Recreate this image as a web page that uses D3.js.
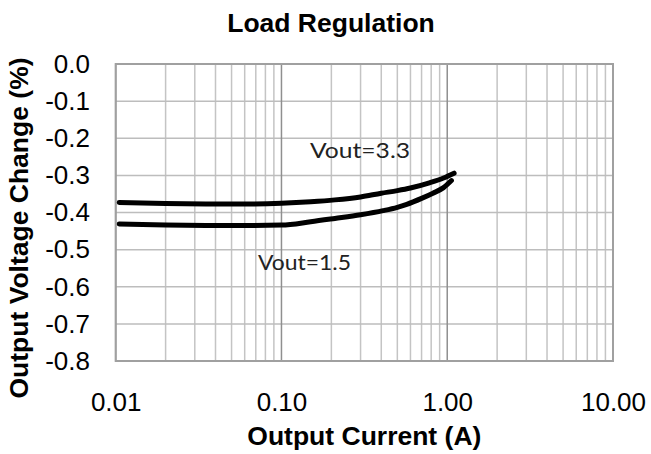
<!DOCTYPE html>
<html>
<head>
<meta charset="utf-8">
<script src="https://cdn.jsdelivr.net/npm/d3@7"></script>
<style>
  html, body { margin: 0; padding: 0; background: #fff; }
  svg { display: block; }
</style>
</head>
<body>
<svg id="chart" width="651" height="454"></svg>
<script>
// ---- data ----
const xTickValues = [0.01, 0.1, 1, 10];
const xTickLabels = ["0.01", "0.10", "1.00", "10.00"];
const yTickValues = [0, -0.1, -0.2, -0.3, -0.4, -0.5, -0.6, -0.7, -0.8];
const yTickLabels = ["0.0", "-0.1", "-0.2", "-0.3", "-0.4", "-0.5", "-0.6", "-0.7", "-0.8"];

const vout33Current = [0.0105, 0.02, 0.035, 0.06, 0.1, 0.15, 0.21, 0.3, 0.4, 0.5, 0.6, 0.78, 0.95, 1.1];
const vout33Change  = [-0.373, -0.376, -0.377, -0.377, -0.375, -0.371, -0.366, -0.358, -0.348, -0.341, -0.334, -0.320, -0.307, -0.294];

const vout15Current = [0.0105, 0.02, 0.035, 0.06, 0.1, 0.15, 0.21, 0.3, 0.41, 0.5, 0.57, 0.7, 0.82, 0.95, 1.06];
const vout15Change  = [-0.431, -0.434, -0.435, -0.435, -0.434, -0.425, -0.416, -0.406, -0.395, -0.386, -0.378, -0.362, -0.348, -0.333, -0.314];

const seriesLabels = ["Vout=3.3", "Vout=1.5"];

(function () {
// ---- layout ----
const svg = d3.select("#chart");
const pLeft = 115.7, pRight = 613, pTop = 64, pBottom = 361;

const x = d3.scaleLog().domain([0.01, 10]).range([pLeft, pRight]);
const y = d3.scaleLinear().domain([-0.8, 0]).range([pBottom, pTop]);

// minor vertical grid
const minor = [];
[0.01, 0.1, 1].forEach(dec => { for (let k = 2; k <= 9; k++) minor.push(dec * k); });

const grid = svg.append("g");
grid.selectAll("line.minor").data(minor).join("line").attr("class", "minor")
  .attr("x1", d => x(d)).attr("x2", d => x(d))
  .attr("y1", pTop).attr("y2", pBottom)
  .attr("stroke", "#c4c4c4").attr("stroke-width", 1.5);

grid.selectAll("line.h").data(yTickValues).join("line").attr("class", "h")
  .attr("x1", pLeft).attr("x2", pRight)
  .attr("y1", d => y(d)).attr("y2", d => y(d))
  .attr("stroke", "#bdbdbd").attr("stroke-width", 1.5);

grid.selectAll("line.major").data(xTickValues).join("line").attr("class", "major")
  .attr("x1", d => x(d)).attr("x2", d => x(d))
  .attr("y1", pTop).attr("y2", pBottom)
  .attr("stroke", "#8f8f8f").attr("stroke-width", 1.5);

// border
svg.append("rect")
  .attr("x", pLeft).attr("y", pTop)
  .attr("width", pRight - pLeft).attr("height", pBottom - pTop)
  .attr("fill", "none").attr("stroke", "#a0a0a0").attr("stroke-width", 2);

// axes
const xAxis = d3.axisBottom(x).tickValues(xTickValues)
  .tickFormat((d, i) => xTickLabels[i]).tickSize(0).tickPadding(32);
const gx = svg.append("g").attr("transform", `translate(0,${pBottom})`).call(xAxis);
gx.select(".domain").remove();
gx.selectAll("text").attr("font-family", "Liberation Sans, Arial, sans-serif")
  .attr("font-size", 26).attr("fill", "#000");

const yAxis = d3.axisLeft(y).tickValues(yTickValues)
  .tickFormat((d, i) => yTickLabels[i]).tickSize(0).tickPadding(pLeft - 90);
const gy = svg.append("g").attr("transform", `translate(${pLeft},0)`).call(yAxis);
gy.select(".domain").remove();
gy.selectAll("text").attr("font-family", "Liberation Sans, Arial, sans-serif")
  .attr("font-size", 26).attr("fill", "#000");

// lines
const line = d3.line().x(d => x(d[0])).y(d => y(d[1])).curve(d3.curveMonotoneX);
const s33 = vout33Current.map((c, i) => [c, vout33Change[i]]);
const s15 = vout15Current.map((c, i) => [c, vout15Change[i]]);
[s33, s15].forEach(s => {
  svg.append("path").datum(s).attr("d", line)
    .attr("fill", "none").attr("stroke", "#000")
    .attr("stroke-width", 5).attr("stroke-linecap", "round").attr("stroke-linejoin", "round");
});

// series labels
svg.append("text").attr("x", 310).attr("y", 158)
  .attr("font-family", "Lato, Open Sans, sans-serif").attr("font-size", 21)
  .attr("textLength", 100).attr("lengthAdjust", "spacingAndGlyphs")
  .attr("fill", "#222").text(seriesLabels[0]);
svg.append("text").attr("x", 258).attr("y", 270)
  .attr("font-family", "Lato, Open Sans, sans-serif").attr("font-size", 21)
  .attr("textLength", 93).attr("lengthAdjust", "spacingAndGlyphs")
  .attr("fill", "#222").text(seriesLabels[1]);

// titles
svg.append("text").attr("x", 331).attr("y", 31.5).attr("text-anchor", "middle")
  .attr("font-family", "Liberation Sans, Arial, sans-serif").attr("font-weight", "bold")
  .attr("font-size", 26.5).attr("fill", "#000").text("Load Regulation");

svg.append("text").attr("x", (pLeft + pRight) / 2).attr("y", 445).attr("text-anchor", "middle")
  .attr("font-family", "Liberation Sans, Arial, sans-serif").attr("font-weight", "bold")
  .attr("font-size", 26.5).attr("fill", "#000").text("Output Current (A)");

svg.append("text")
  .attr("transform", `translate(28,228) rotate(-90)`)
  .attr("text-anchor", "middle")
  .attr("font-family", "Liberation Sans, Arial, sans-serif").attr("font-weight", "bold")
  .attr("font-size", 26.5).attr("fill", "#000").text("Output Voltage Change (%)");
})();
</script>
</body>
</html>
